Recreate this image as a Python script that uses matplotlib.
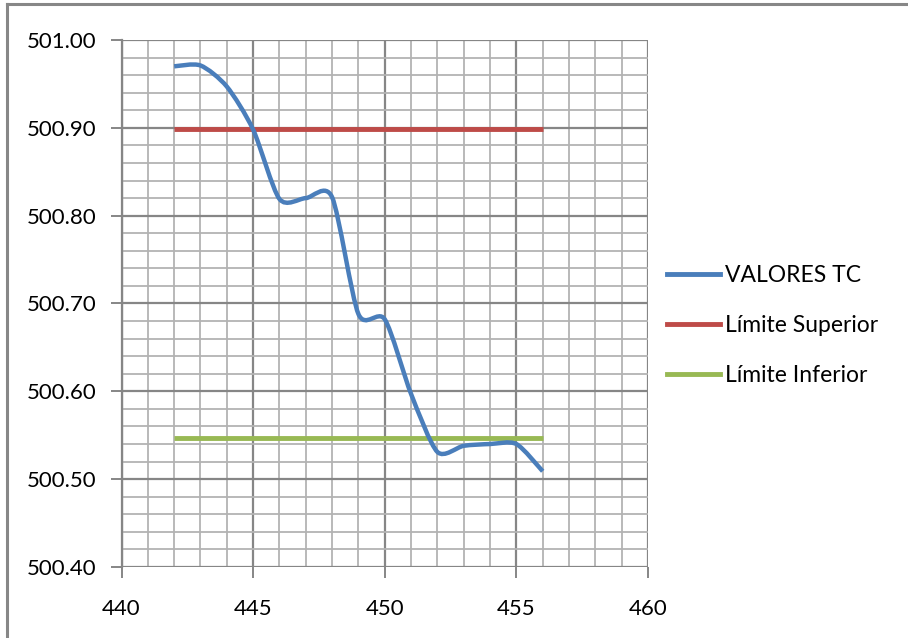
import matplotlib.pyplot as plt
import numpy as np
from matplotlib.path import Path
from matplotlib.patches import PathPatch
from matplotlib.lines import Line2D

plt.rcParams['font.family'] = ['Lato', 'DejaVu Sans']

# datos
x_vals = [442, 443, 444, 445, 446, 447, 448, 449, 450, 451, 452, 453, 454, 455, 456]
valores_tc = [500.970, 500.971, 500.947, 500.898, 500.819, 500.820, 500.821, 500.688, 500.682,
              500.597, 500.531, 500.538, 500.540, 500.540, 500.509]
limite_sup = [500.899] * len(x_vals)
limite_inf = [500.547] * len(x_vals)

x_ticks = [440, 445, 450, 455, 460]
y_ticks = [500.40, 500.50, 500.60, 500.70, 500.80, 500.90, 501.00]

BLUE = '#4a7ebb'
RED = '#be4b48'
GREEN = '#98b954'


# curva suavizada tipo Excel (Bezier)
def smooth_path(xs, ys, t=0.13):
    xs = np.asarray(xs, float)
    ys = np.asarray(ys, float)
    n = len(xs)
    verts = [(xs[0], ys[0])]
    codes = [Path.MOVETO]
    for i in range(n - 1):
        i0 = max(i - 1, 0)
        i3 = min(i + 2, n - 1)
        c1 = (xs[i] + (xs[i + 1] - xs[i0]) * t, ys[i] + (ys[i + 1] - ys[i0]) * t)
        c2 = (xs[i + 1] - (xs[i3] - xs[i]) * t, ys[i + 1] - (ys[i3] - ys[i]) * t)
        verts += [c1, c2, (xs[i + 1], ys[i + 1])]
        codes += [Path.CURVE4] * 3
    return Path(verts, codes)


fig = plt.figure(figsize=(9.08, 6.38), dpi=100)
ax = fig.add_axes([121.5 / 908, 71 / 638, 526.5 / 908, 527 / 638])

ax.add_patch(PathPatch(smooth_path(x_vals, valores_tc), facecolor='none',
                       edgecolor=BLUE, lw=3.2, capstyle='butt', zorder=5))
ax.plot(x_vals, limite_sup, color=RED, lw=3.5, solid_capstyle='butt', zorder=4)
ax.plot(x_vals, limite_inf, color=GREEN, lw=3.5, solid_capstyle='butt', zorder=4)

ax.set_xlim(440, 460)
ax.set_ylim(500.40, 501.00)
ax.set_xticks(x_ticks)
ax.set_xticks(np.arange(440, 461, 1), minor=True)
ax.set_yticks(y_ticks)
ax.set_yticks(np.arange(500.40, 501.001, 0.02), minor=True)
ax.set_yticklabels([f'{v:.2f}' for v in y_ticks])

ax.grid(which='minor', color='#b3b3b3', lw=1.3)
ax.grid(which='major', color='#868686', lw=1.6)
ax.set_axisbelow(True)

for s in ['top', 'right', 'bottom']:
    ax.spines[s].set_visible(False)
ax.spines['left'].set_color('#868686')
ax.spines['left'].set_linewidth(1.6)

ax.tick_params(which='minor', length=0)
ax.tick_params(which='major', length=8, width=1.4, color='#868686',
               labelsize=16, labelcolor='black', direction='out')
ax.tick_params(axis='x', pad=15)
ax.tick_params(axis='y', pad=10)

handles = [Line2D([], [], color=BLUE, lw=3.5),
           Line2D([], [], color=RED, lw=3.5),
           Line2D([], [], color=GREEN, lw=3.5)]
fig.legend(handles, ['VALORES TC', 'Límite Superior', 'Límite Inferior'],
           loc='upper left', bbox_to_anchor=(0.735, 0.584), frameon=False,
           fontsize=16.5, handlelength=2.3, handletextpad=0.2, labelspacing=1.25,
           borderaxespad=0, borderpad=0)

# borde del grafico
fig.add_artist(Line2D([0.0075, 0.0075], [0, 0.994], color='#878787', lw=2.2,
                      transform=fig.transFigure))
fig.add_artist(Line2D([0.0075, 1.0], [0.994, 0.994], color='#878787', lw=2.2,
                      transform=fig.transFigure))

fig.savefig('out.png', dpi=100)
